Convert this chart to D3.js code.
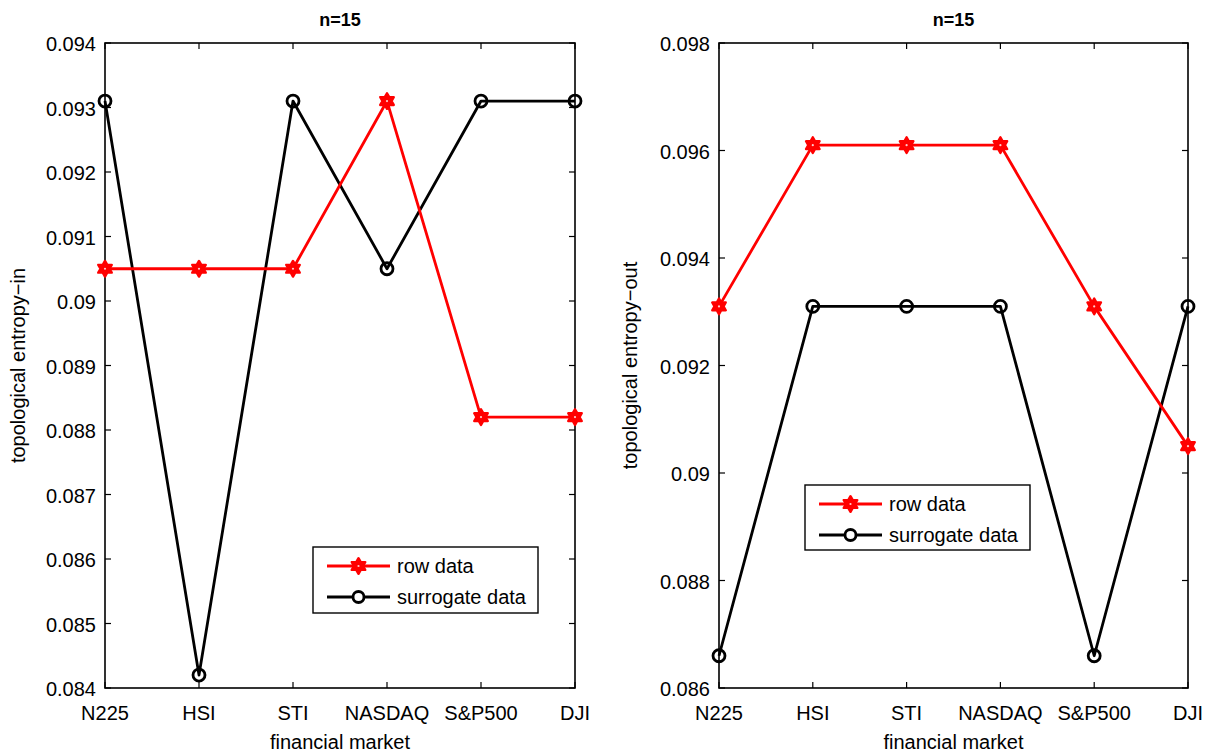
<!DOCTYPE html>
<html>
<head>
<meta charset="utf-8">
<script src="https://cdn.jsdelivr.net/npm/d3@7"></script>
<style>
  html, body { margin: 0; padding: 0; background: #fff; }
  svg { display: block; font-family: "Liberation Sans", Arial, sans-serif; }
</style>
</head>
<body>
<svg id="chart" width="1211" height="756"></svg>
<script>
// Markets along the x axis
const markets = ["N225", "HSI", "STI", "NASDAQ", "S&P500", "DJI"];
const seriesNames = ["row data", "surrogate data"];

// Topological entropy (in-degree), n = 15
const entropyInRow = [0.0905, 0.0905, 0.0905, 0.0931, 0.0882, 0.0882];
const entropyInSurrogate = [0.0931, 0.0842, 0.0931, 0.0905, 0.0931, 0.0931];

// Topological entropy (out-degree), n = 15
const entropyOutRow = [0.0931, 0.0961, 0.0961, 0.0961, 0.0931, 0.0905];
const entropyOutSurrogate = [0.0866, 0.0931, 0.0931, 0.0931, 0.0866, 0.0931];

// Y tick values for each panel
const ticksIn = [0.084, 0.085, 0.086, 0.087, 0.088, 0.089, 0.09, 0.091, 0.092, 0.093, 0.094];
const ticksOut = [0.086, 0.088, 0.09, 0.092, 0.094, 0.096, 0.098];

const svg = d3.select("#chart");
const FS = 20;       // text size for ticks, labels and legend
const LW = 2.8;      // series line width

// Six-pointed star (hexagram) marker path
function hexagram(r) {
  const pts = [];
  for (let i = 0; i < 12; i++) {
    const a = -Math.PI / 2 + i * Math.PI / 6;
    const rr = i % 2 === 0 ? r : r / Math.sqrt(3);
    pts.push([rr * Math.cos(a), rr * Math.sin(a)]);
  }
  return "M" + pts.map(p => p[0].toFixed(2) + "," + p[1].toFixed(2)).join("L") + "Z";
}

// Thick red star with a tiny white core
function drawStar(sel, cx, cy) {
  const s = sel.append("g").attr("transform", `translate(${cx},${cy})`);
  s.append("path").attr("d", hexagram(7.8))
    .attr("fill", "#ff0000").attr("stroke", "#ff0000").attr("stroke-width", 2.4).attr("stroke-linejoin", "round");
  s.append("circle").attr("r", 1.1).attr("fill", "#fff").attr("opacity", 0.8);
}

function fmt(v) {
  const s = d3.format(".3f")(v);
  return s.replace(/0+$/, "").replace(/\.$/, "");
}

function panel(opt) {
  const { left, right, top, bottom, yDomain, ticks, row, sur, ylabel, legend } = opt;
  const g = svg.append("g");
  const x = d3.scalePoint().domain(markets).range([left, right]);
  const y = d3.scaleLinear().domain(yDomain).range([bottom, top]);
  const tickLen = 6;

  // Frame
  g.append("rect")
    .attr("x", left).attr("y", top)
    .attr("width", right - left).attr("height", bottom - top)
    .attr("fill", "none").attr("stroke", "#000").attr("stroke-width", 1.6);

  // Inward ticks on all four sides
  const xt = g.append("g").attr("stroke", "#000").attr("stroke-width", 1.2);
  markets.forEach(m => {
    xt.append("line").attr("x1", x(m)).attr("x2", x(m)).attr("y1", bottom).attr("y2", bottom - tickLen);
    xt.append("line").attr("x1", x(m)).attr("x2", x(m)).attr("y1", top).attr("y2", top + tickLen);
  });
  ticks.forEach(t => {
    xt.append("line").attr("x1", left).attr("x2", left + tickLen).attr("y1", y(t)).attr("y2", y(t));
    xt.append("line").attr("x1", right).attr("x2", right - tickLen).attr("y1", y(t)).attr("y2", y(t));
  });

  // Tick labels
  g.append("g").selectAll("text").data(ticks).join("text")
    .attr("x", left - 9).attr("y", d => y(d) + 1)
    .attr("text-anchor", "end").attr("dominant-baseline", "central")
    .attr("font-size", FS).text(fmt);
  g.append("g").selectAll("text").data(markets).join("text")
    .attr("x", d => x(d)).attr("y", bottom + 25)
    .attr("text-anchor", "middle").attr("dominant-baseline", "central")
    .attr("font-size", FS).text(d => d);

  // Title and axis labels
  g.append("text").attr("x", (left + right) / 2).attr("y", 20)
    .attr("text-anchor", "middle").attr("dominant-baseline", "central")
    .attr("font-size", 18).attr("font-weight", "bold").text("n=15");
  g.append("text").attr("x", (left + right) / 2).attr("y", 742)
    .attr("text-anchor", "middle").attr("dominant-baseline", "central")
    .attr("font-size", FS).text("financial market");
  g.append("text")
    .attr("transform", `translate(${opt.ylabelX},${(top + bottom) / 2}) rotate(-90)`)
    .attr("text-anchor", "middle").attr("dominant-baseline", "central")
    .attr("font-size", FS).text(ylabel);

  const line = d3.line().x((d, i) => x(markets[i])).y(d => y(d));

  // Surrogate series (black, circles)
  g.append("path").datum(sur).attr("d", line)
    .attr("fill", "none").attr("stroke", "#000").attr("stroke-width", LW).attr("stroke-linejoin", "round");
  // Row series (red, hexagrams)
  g.append("path").datum(row).attr("d", line)
    .attr("fill", "none").attr("stroke", "#ff0000").attr("stroke-width", LW).attr("stroke-linejoin", "round");

  g.append("g").selectAll("circle").data(sur).join("circle")
    .attr("cx", (d, i) => x(markets[i])).attr("cy", d => y(d)).attr("r", 6)
    .attr("fill", "none").attr("stroke", "#000").attr("stroke-width", LW);
  const stars = g.append("g");
  row.forEach((d, i) => drawStar(stars, x(markets[i]), y(d)));

  // Legend
  const L = legend;
  const lg = g.append("g");
  lg.append("rect").attr("x", L.x).attr("y", L.y).attr("width", L.w).attr("height", L.h)
    .attr("fill", "#fff").attr("stroke", "#000").attr("stroke-width", 1.4);
  const rows = [
    { name: seriesNames[0], color: "#ff0000", marker: "hex" },
    { name: seriesNames[1], color: "#000", marker: "circle" }
  ];
  rows.forEach((r, i) => {
    const cy = L.y + 19 + i * 31;
    const x0 = L.x + 14, x1 = L.x + 77, xm = (x0 + x1) / 2;
    lg.append("line").attr("x1", x0).attr("x2", x1).attr("y1", cy).attr("y2", cy)
      .attr("stroke", r.color).attr("stroke-width", LW);
    if (r.marker === "hex") {
      drawStar(lg, xm, cy);
    } else {
      lg.append("circle").attr("cx", xm).attr("cy", cy).attr("r", 5.5)
        .attr("fill", "#fff").attr("stroke", r.color).attr("stroke-width", LW);
    }
    lg.append("text").attr("x", x1 + 7).attr("y", cy).attr("dominant-baseline", "central")
      .attr("font-size", FS).text(r.name);
  });
}

panel({
  left: 105, right: 575, top: 43, bottom: 688,
  yDomain: [0.084, 0.094], ticks: ticksIn,
  row: entropyInRow, sur: entropyInSurrogate,
  ylabel: "topological entropy\u2212in", ylabelX: 18,
  legend: { x: 313, y: 547, w: 225, h: 66 }
});

panel({
  left: 719, right: 1188, top: 43, bottom: 688,
  yDomain: [0.086, 0.098], ticks: ticksOut,
  row: entropyOutRow, sur: entropyOutSurrogate,
  ylabel: "topological entropy\u2212out", ylabelX: 630,
  legend: { x: 805, y: 485, w: 225, h: 65 }
});
</script>
</body>
</html>
